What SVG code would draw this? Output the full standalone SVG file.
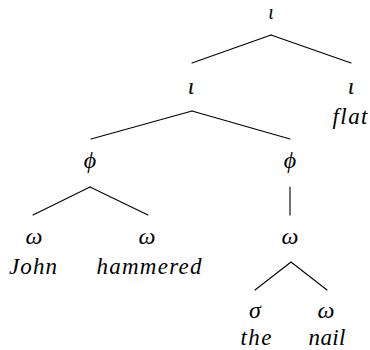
<svg xmlns="http://www.w3.org/2000/svg" width="370" height="350" viewBox="0 0 370 350">
<style>
text{font-style:italic;font-size:23px;text-anchor:middle;fill:#000}
.g{font-size:24px}
.t{font-size:20px}
line{stroke:#000;stroke-width:1.1;stroke-linecap:round}
</style>
<rect width="370" height="350" fill="#fff"/>
<g id="connectors">
<line x1="271" y1="35" x2="192" y2="63"/>
<line x1="271" y1="35" x2="351" y2="63"/>
<line x1="192" y1="111" x2="91" y2="139"/>
<line x1="192" y1="111" x2="290" y2="139"/>
<line x1="90" y1="187" x2="33" y2="215"/>
<line x1="90" y1="187" x2="148" y2="215"/>
<line x1="290" y1="187" x2="290" y2="215"/>
<line x1="291" y1="262" x2="255" y2="290"/>
<line x1="291" y1="262" x2="327" y2="290"/>
</g>
<g font-family="'Liberation Serif', 'DejaVu Serif', serif">
<g id="n-iota-top"><text class="t" x="271" y="19">ι</text></g>
<g id="n-iota-left"><text class="g" x="191" y="94">ι</text></g>
<g id="n-iota-right"><text class="g" x="351" y="94">ι</text><text x="350" y="124" textLength="35" lengthAdjust="spacing">flat</text></g>
<g id="n-phi-left"><text class="g" x="90" y="168">ϕ</text></g>
<g id="n-phi-right"><text class="g" x="290" y="168">ϕ</text></g>
<g id="n-omega-john"><text class="g" x="34" y="244">ω</text><text x="33" y="274" textLength="48" lengthAdjust="spacing">John</text></g>
<g id="n-omega-hammered"><text class="g" x="147" y="244">ω</text><text x="149" y="274" textLength="105" lengthAdjust="spacing">hammered</text></g>
<g id="n-omega-mid"><text class="g" x="290" y="244">ω</text></g>
<g id="n-sigma-the"><text class="g" x="255" y="318">σ</text><text x="256" y="345" textLength="31" lengthAdjust="spacing">the</text></g>
<g id="n-omega-nail"><text class="g" x="326" y="318">ω</text><text x="327" y="345" textLength="37" lengthAdjust="spacing">nail</text></g>
</g>
</svg>
